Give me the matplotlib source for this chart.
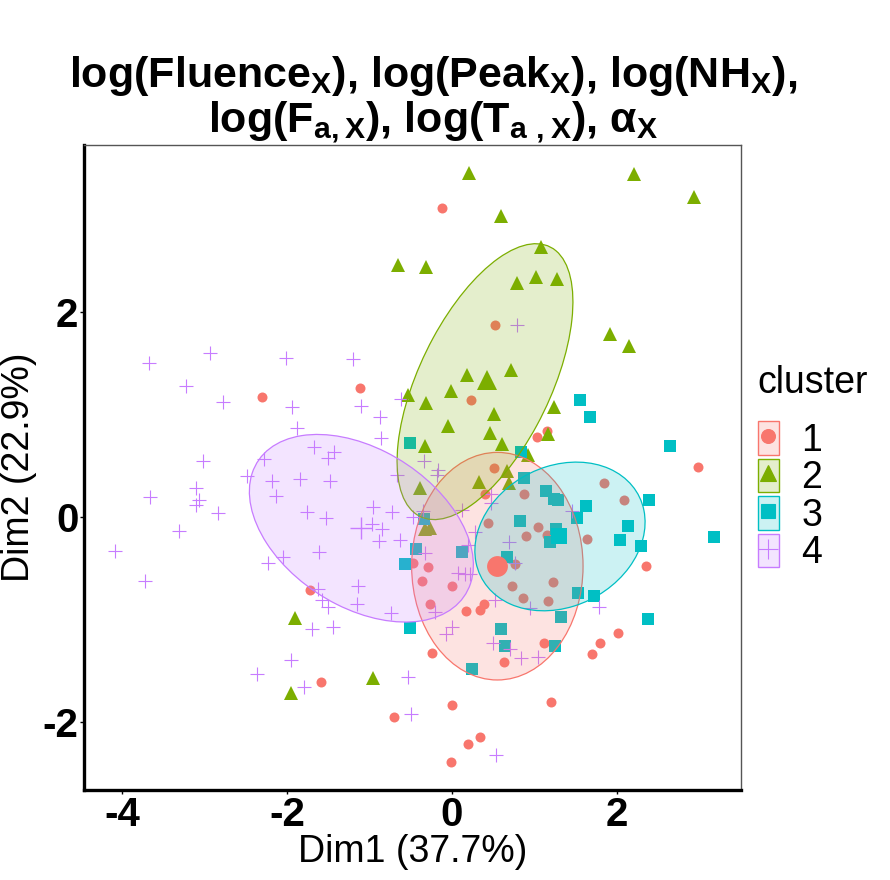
import matplotlib
matplotlib.use("Agg")
import matplotlib.pyplot as plt
from matplotlib.patches import Ellipse, Patch
from matplotlib.lines import Line2D
from matplotlib.colors import to_rgba

plt.rcParams['font.family'] = ['Liberation Sans', 'DejaVu Sans']
plt.rcParams['axes.unicode_minus'] = False

# cluster data (Dim1, Dim2)
c1_x = [-0.12, -2.31, -1.12, 0.52, 0.23, 1.15, 1.03, 2.99, 0.51, 0.40, 0.87, 1.84, 2.09,
        0.44, 1.04, 0.90, 1.15, 1.64, 0.76, -0.47, -0.29, -0.36, 0.00, 0.73, 1.23, 0.86,
        1.17, -0.27, 0.39, 0.34, 0.17, 2.35, 2.01, 1.80, 1.70, 1.12, -0.24, 0.63, 0.00,
        1.20, 0.34, 0.19, -0.01, -1.72, -1.59, -0.70]
c1_y = [3.01, 1.17, 1.26, 1.87, 1.14, 0.84, 0.78, 0.49, 0.48, 0.22, 0.22, 0.33, 0.17,
        -0.06, -0.10, -0.19, -0.18, -0.21, -0.46, -0.45, -0.49, -0.62, -0.67, -0.67, -0.63, -0.79,
        -0.82, -0.85, -0.85, -0.91, -0.92, -0.48, -1.13, -1.23, -1.34, -1.23, -1.33, -1.41, -1.83,
        -1.80, -2.15, -2.21, -2.39, -0.71, -1.61, -1.95]

c2_x = [0.21, 2.21, 2.94, 0.59, 1.08, -0.66, -0.32, 0.79, 1.02, 1.27, 1.92, 2.15, 0.18,
        0.72, -0.01, -0.32, -0.53, 1.24, 0.51, -0.05, 0.46, 1.17, -0.33, 0.61, 0.92, 0.67,
        0.33, 0.69, -0.39, -0.33, -0.27, -1.91, -1.95, -0.96]
c2_y = [3.36, 3.35, 3.12, 2.94, 2.63, 2.46, 2.44, 2.28, 2.34, 2.32, 1.78, 1.67, 1.38,
        1.43, 1.23, 1.11, 1.19, 1.07, 1.00, 0.89, 0.82, 0.81, 0.69, 0.71, 0.60, 0.45,
        0.34, 0.33, 0.28, -0.12, -0.11, -0.99, -1.72, -1.57]

c3_x = [-0.51, 0.84, 1.55, 1.67, 2.65, 0.87, 1.14, 1.24, 1.29, 1.63, 1.52, 2.39, 0.83,
        -0.34, 1.26, 1.19, 2.14, 2.04, 2.29, 3.18, 0.67, -0.44, 0.12, -0.57, 1.53, 1.72,
        1.32, 0.59, 0.64, 1.25, 2.38, -0.51, 0.24]
c3_y = [0.72, 0.63, 1.14, 0.98, 0.69, 0.38, 0.25, 0.18, 0.17, 0.11, -0.01, 0.17, -0.04,
        -0.02, -0.12, -0.24, -0.09, -0.22, -0.28, -0.20, -0.39, -0.31, -0.34, -0.46, -0.74, -0.77,
        -0.98, -1.09, -1.26, -1.26, -1.00, -1.08, -1.48]

c4_x = [-3.68, -2.94, -2.01, -1.20, -3.23, -2.78, -1.94, -1.10, -0.62, -0.87, -1.88, -0.86,
        -1.67, -1.43, -1.50, -2.28, -3.02, -2.49, -2.18, -1.84, -1.48, -3.11, -3.67, -3.07,
        -3.11, -2.14, -2.84, -1.76, -1.53, -0.96, -0.73, -0.67, -0.97, -0.85, -0.89, -0.63,
        -0.47, -3.31, -4.09, -1.61, -2.05, -2.23, -3.73, -1.63, -1.58, -1.50, -1.14, -1.15,
        -0.74, -1.70, -1.44, -1.95, -2.37, -1.80, -0.53, -0.50, -0.34, -0.17, -0.18, 0.47,
        0.47, 0.12, -0.35, 0.28, 0.19, 0.69, 0.76, -0.33, 0.07, 0.16, 0.22, 0.52, -0.21,
        0.95, 0.00, -0.07, 0.50, 0.70, 0.84, 1.04, 1.46, 1.78, 0.79, 0.53]
c4_y = [1.50, 1.60, 1.55, 1.54, 1.28, 1.12, 1.07, 1.08, 1.15, 0.98, 0.87, 0.77,
        0.68, 0.63, 0.58, 0.57, 0.55, 0.40, 0.35, 0.37, 0.35, 0.28, 0.19, 0.17,
        0.12, 0.20, 0.04, 0.05, -0.01, 0.10, 0.05, 0.41, -0.07, -0.12, -0.23, -0.22,
        0.00, -0.14, -0.33, -0.34, -0.39, -0.45, -0.62, -0.70, -0.81, -0.88, -0.67, -0.85,
        -0.94, -1.09, -1.07, -1.40, -1.53, -1.66, -1.56, -1.92, 0.55, 0.46, 0.41, 0.22,
        0.14, 0.07, 0.06, -0.15, -0.27, -0.24, -0.45, -0.35, -0.55, -0.56, -0.56, -0.81, -0.93,
        -0.89, -1.07, -1.14, -1.23, -1.29, -1.38, -1.37, 0.06, -0.88, 1.87, -2.32]

clusters = ['1', '2', '3', '4']
center_x = [0.55, 0.42, 1.30, -1.10]
center_y = [-0.48, 1.34, -0.19, -0.11]

# ellipses: centre, semi-axes, angle (deg)
ell_cx = [0.55, 0.40, 1.31, -1.10]
ell_cy = [-0.48, 1.32, -0.19, -0.11]
ell_a = [1.04, 1.54, 1.05, 1.43]
ell_b = [1.11, 0.76, 0.70, 0.80]
ell_ang = [0, 56, 14, -22]

colors = ['#F8766D', '#7CAE00', '#00BFC4', '#C77CFF']
markers = ['o', '^', 's', '+']
msize = [7.2, 9.5, 8, 10.5]
bigsize = [15, 15, 12, 16]
legsize = [10, 12, 10, 15]

xs = [c1_x, c2_x, c3_x, c4_x]
ys = [c1_y, c2_y, c3_y, c4_y]

fig = plt.figure(figsize=(8.9, 8.8), dpi=100)
ax = fig.add_axes([0.0944, 0.1023, 0.7382, 0.7330])

for i in range(4):
    ax.plot(xs[i], ys[i], linestyle='none', marker=markers[i], color=colors[i],
            markersize=msize[i], markeredgewidth=0.8 if markers[i] == '+' else 0, zorder=2)

for i in range(4):
    e = Ellipse((ell_cx[i], ell_cy[i]), 2 * ell_a[i], 2 * ell_b[i], angle=ell_ang[i],
                facecolor=to_rgba(colors[i], 0.2), edgecolor=colors[i], linewidth=0.9, zorder=3)
    ax.add_patch(e)

for i in range(4):
    ax.plot(center_x[i], center_y[i], linestyle='none', marker=markers[i], color=colors[i],
            markersize=bigsize[i], markeredgewidth=1.0 if markers[i] == '+' else 0, zorder=4)

ax.set_xlim(-4.466, 3.507)
ax.set_ylim(-2.663, 3.629)
ax.set_xticks([-4, -2, 0, 2])
ax.set_yticks([-2, 0, 2])
ax.tick_params(length=3, width=1, labelsize=29, pad=1)
for lab in ax.get_xticklabels() + ax.get_yticklabels():
    lab.set_fontweight('bold')

for s in ['left', 'bottom']:
    ax.spines[s].set_linewidth(2.4)
    ax.spines[s].set_color('black')
for s in ['top', 'right']:
    ax.spines[s].set_linewidth(1.0)
    ax.spines[s].set_color('#555555')

ax.set_xlabel('Dim1 (37.7%)', fontsize=27, labelpad=0)
ax.set_ylabel('Dim2 (22.9%)', fontsize=27, labelpad=4)

title = ('log(Fluence$_\\mathregular{X}$), log(Peak$_\\mathregular{X}$), log(NH$_\\mathregular{X}$),\n'
         'log(F$_\\mathregular{a,X}$), log(T$_\\mathregular{a\\ ,X}$), α$_\\mathregular{X}$')
fig.text(0.487, 0.887, title, ha='center', va='center', fontsize=31, fontweight='bold',
         linespacing=1.05)

# legend title placed separately to get the wider gap under it
fig.text(0.8506, 0.5648, 'cluster', ha='left', va='center', fontsize=27)
handles = [(Patch(facecolor=to_rgba(colors[i], 0.2), edgecolor=colors[i]),
            Line2D([], [], linestyle='none', marker=markers[i], color=colors[i],
                   markersize=legsize[i], markeredgewidth=0.8))
           for i in range(4)]
leg = fig.legend(handles, clusters, loc='upper left',
                 bbox_to_anchor=(0.8517, 0.5216), frameon=False, fontsize=27,
                 handlelength=0.55, handleheight=1.0,
                 labelspacing=0.0, handletextpad=0.6,
                 borderpad=0, borderaxespad=0)

fig.savefig('out.png', dpi=100)
